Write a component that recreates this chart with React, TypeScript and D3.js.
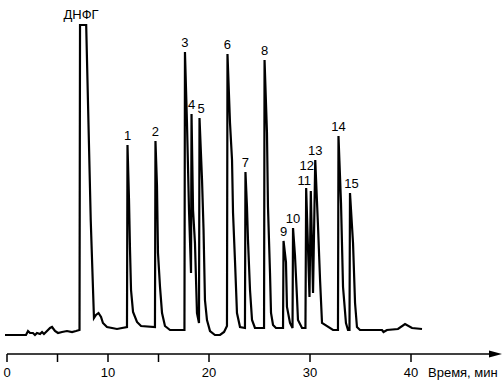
import React, { useEffect, useRef } from "react";
import * as d3 from "d3";

// retention time, min
const times = [
  -0.2, 1.88, 2.08, 2.28, 2.57, 2.77, 2.97, 3.27, 3.47, 3.66, 3.96, 4.26, 4.46, 4.75, 5.05, 5.45, 5.94, 6.44, 6.83, 7.18,
  7.23, 7.84, 8.29, 8.61, 8.81, 9.06, 9.31, 9.5, 9.9, 10.4, 10.89, 11.39, 11.88,
  11.93, 12.08, 12.18, 12.28, 12.48, 12.87, 13.27, 14.65,
  14.7, 14.85, 14.95, 15.15, 15.35, 15.64, 16.14, 17.57,
  17.62, 17.82, 18.02, 18.22, 18.27, 18.42, 18.61, 18.81, 19.01, 19.06, 19.31, 19.46, 19.6, 19.8, 20.1,
  20.59, 21.09, 21.49, 21.78,
  21.83, 22.08, 22.28, 22.38, 22.57, 22.77, 23.07, 23.56,
  23.61, 23.76, 23.86, 24.06, 24.26, 24.55, 25.45,
  25.5, 25.74, 25.84, 26.04, 26.14, 26.34, 26.63, 27.33,
  27.38, 27.62, 27.72, 28.02, 28.27,
  28.32, 28.51, 28.71, 28.81, 29.21, 29.55,
  29.62, 29.95, 30.08, 30.3, 30.52, 30.8, 31.0, 31.19, 32.28,
  32.77, 32.82, 33.07, 33.27, 33.56, 33.76,
  33.91, 33.96, 34.26, 34.46, 34.65, 34.95,
  37.13, 37.28, 37.62, 38.71, 39.41, 40.1, 41.09,
];

// detector response, arbitrary units
const signal = [
  1, 1, 5, 3, 3, 1, 3, 2, 4, 2, 5, 8, 9, 5, 3, 4, 5, 4, 5, 6,
  311, 311, 116, 18, 21, 23, 19, 13, 9, 8, 7, 8, 9,
  191, 136, 86, 46, 24, 14, 10, 9,
  195, 150, 83, 49, 23, 10, 6, 6,
  284, 213, 126, 63, 222, 126, 93, 23, 13, 218, 156, 106, 36, 16, 5,
  1, 1, 4, 10,
  282, 213, 176, 123, 76, 23, 9, 8,
  164, 129, 96, 46, 16, 8, 8,
  276, 203, 129, 63, 23, 11, 8, 8,
  95, 74, 29, 13, 8,
  108, 81, 39, 16, 8, 8,
  148, 39, 145, 43, 176, 108, 55, 13, 6,
  6, 200, 133, 49, 13, 6,
  6, 143, 93, 33, 9, 6,
  6, 4, 6, 7, 12, 8, 7,
];

const peakNames = ["1", "2", "3", "4", "5", "6", "7", "8", "9", "10", "11", "12", "13", "14", "15"];
const peakTimes = [11.93, 14.7, 17.62, 18.27, 19.06, 21.83, 23.61, 25.5, 27.38, 28.32, 29.62, 30.08, 30.52, 32.82, 33.96];
const solventName = "ДНФГ";
const solventTime = 7.53;

const tickValues = [0, 5, 10, 15, 20, 30, 40];
const tickLabels = ["0", "", "10", "", "20", "30", "40"];
const axisTitle = "Время, мин";

const W = 503;
const H = 382;
const FONT = "'Liberation Sans', Arial, Helvetica, sans-serif";

// small label shifts so crowded numbers don't collide
const nudge: Record<string, [number, number]> = {
  "5": [1.5, 0],
  "11": [-2, 2],
  "12": [-4, -16],
  "15": [1.5, 0],
};

export default function App() {
  const ref = useRef<SVGSVGElement | null>(null);

  useEffect(() => {
    const svg = d3.select(ref.current);
    svg.selectAll("*").remove();

    const x = d3.scaleLinear().domain([0, 40]).range([7, 411]);
    const y = d3.scaleLinear().domain([0, 310]).range([336, 26]);

    const pts = times.map((t, i) => [t, signal[i]] as [number, number]);

    const line = d3
      .line<[number, number]>()
      .x((d) => x(d[0]))
      .y((d) => y(d[1]));

    svg
      .append("path")
      .attr("d", line(pts))
      .attr("fill", "none")
      .attr("stroke", "#000")
      .attr("stroke-width", 2.2);

    // apex of a peak near the given time
    const apex = (t0: number, win = 0.2) => {
      let best = 0;
      pts.forEach(([t, v]) => {
        if (Math.abs(t - t0) <= win && v > best) best = v;
      });
      return best;
    };

    const labels = svg
      .append("g")
      .attr("font-family", FONT)
      .attr("font-size", 13)
      .attr("text-anchor", "middle")
      .attr("fill", "#000");

    peakNames.forEach((name, i) => {
      const [dx, dy] = nudge[name] || [0, 0];
      labels
        .append("text")
        .attr("x", x(peakTimes[i]) + dx)
        .attr("y", y(apex(peakTimes[i])) - 5 + dy)
        .text(name);
    });

    labels
      .append("text")
      .attr("x", x(solventTime) - 2)
      .attr("y", y(apex(solventTime, 0.4)) - 6)
      .text(solventName);

    // time axis with arrow
    const axisY = 354;
    const axis = svg.append("g");
    axis
      .append("line")
      .attr("x1", x(0))
      .attr("x2", 492)
      .attr("y1", axisY)
      .attr("y2", axisY)
      .attr("stroke", "#000")
      .attr("stroke-width", 1.5);
    axis
      .append("path")
      .attr("d", `M489,${axisY - 3.5}L502,${axisY}L489,${axisY + 3.5}Z`)
      .attr("fill", "#000");

    tickValues.forEach((t, i) => {
      axis
        .append("line")
        .attr("x1", x(t))
        .attr("x2", x(t))
        .attr("y1", axisY)
        .attr("y2", axisY + 8)
        .attr("stroke", "#000")
        .attr("stroke-width", 1.5);
      if (tickLabels[i]) {
        axis
          .append("text")
          .attr("x", x(t))
          .attr("y", 377)
          .attr("text-anchor", "middle")
          .attr("font-family", FONT)
          .attr("font-size", 13)
          .text(tickLabels[i]);
      }
    });

    axis
      .append("text")
      .attr("x", 428)
      .attr("y", 377)
      .attr("font-family", FONT)
      .attr("font-size", 13)
      .text(axisTitle);
  }, []);

  return (
    <svg
      ref={ref}
      width={W}
      height={H}
      style={{ position: "absolute", left: 0, top: 0, background: "#fff" }}
    />
  );
}
